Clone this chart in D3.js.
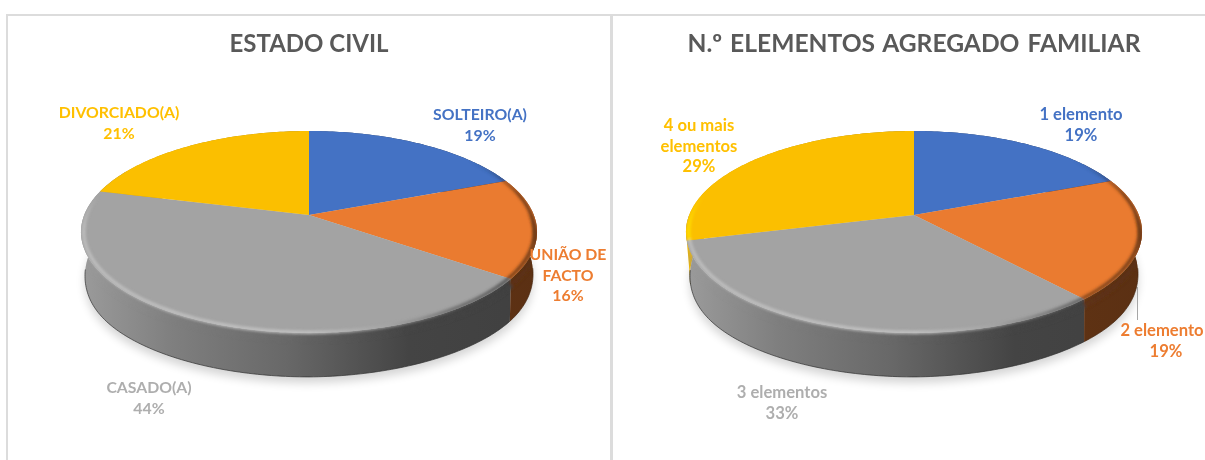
<!DOCTYPE html>
<html>
<head>
<meta charset="utf-8">
<script src="https://cdn.jsdelivr.net/npm/d3@7"></script>
<style>
html,body{margin:0;padding:0;background:#fff;overflow:hidden;}
svg{display:block;}
text{font-family:Lato,"Open Sans",sans-serif;}
</style>
</head>
<body>
<svg width="1205" height="460"></svg>
<script>
// values
const civilLabels = [['SOLTEIRO(A)'], ['UNIÃO DE','FACTO'], ['CASADO(A)'], ['DIVORCIADO(A)']];
const civilValues = [19, 16, 44, 21];
const familyLabels = [['1 elemento'], ['2 elemento'], ['3 elementos'], ['4 ou mais','elementos']];
const familyValues = [19, 19.49, 32.51, 29];
const colors = ['#4472c4', '#ea7b30', '#a3a3a3', '#fbbf00'];
const labelColors = ['#4472c4', '#ed7d31', '#aeaeae', '#ffc000'];

// layout, kept apart from the data: x, y of the first line, x of the percentage
const civilLabelPos = [[480,115,480],[568,255,568],[149,388,149],[119,113,119]];
const familyLabelPos = [[1081,115,1081],[1162,331,1166],[782,393,782],[699,126,699]];
const depth = 44;
const step = Math.PI/180;

const svg = d3.select('svg');
const defs = svg.append('defs');
defs.append('filter').attr('id','soft').attr('x','-5%').attr('y','-5%').attr('width','110%').attr('height','110%')
	.append('feGaussianBlur').attr('stdDeviation',1.5);
defs.append('filter').attr('id','shadow').attr('x','-10%').attr('y','-10%').attr('width','120%').attr('height','120%')
	.append('feGaussianBlur').attr('stdDeviation',5);

// frame
const frame = svg.append('g').attr('stroke','#dcdcdc').attr('stroke-width',2).attr('fill','none');
frame.append('path').attr('d','M7,460V15H1205');
frame.append('path').attr('d','M611.5,15V460').attr('stroke-width',3);

const line = d3.line();
const shade = (c,k) => {
	const r = d3.rgb(c);
	return d3.rgb(Math.min(255,r.r*k), Math.min(255,r.g*k), Math.min(255,r.b*k)).formatHex();
};
const clamp01 = d3.scaleLinear().domain([0,1]).range([0,1]).clamp(true);

// perspective of the disc: angle on the circle -> point on the screen
function project(cx, a){
	const u = Math.sin(a), v = -Math.cos(a);
	const w = 1 - 0.168*v;
	return [cx + 224.8*u/w, 215 + 98.1*v/w];
}
function lower(cx, p){
	const dx = p[0]-cx;
	const pull = 4*Math.pow(Math.abs(dx)/228, 12)*Math.sign(dx);
	return [p[0]-pull, p[1] + depth - 2*Math.max(0,dx/228)];
}

function gradient(id, cx, stops){
	const g = defs.append('linearGradient').attr('id',id)
		.attr('gradientUnits','userSpaceOnUse')
		.attr('x1',cx-228).attr('x2',cx+228).attr('y1',0).attr('y2',0);
	stops.forEach(s => g.append('stop').attr('offset',s[0]).attr('stop-color',s[1]));
}

function drawPie(name, cx, title, titleSize, wordGap, labelSize, labels, values, labelPos){
	const g = svg.append('g');
	const arcs = d3.pie().sort(null)(values);
	const angles = d => d3.range(d.startAngle, d.endAngle, step).concat([d.endAngle]);

	// shadow under the disc
	const all = d3.range(0, 2*Math.PI, step).map(a => lower(cx, project(cx,a)));
	g.append('path').attr('d', line(all)+'Z')
		.attr('transform','translate(0,6)')
		.attr('fill','#000').attr('opacity',0.17).attr('filter','url(#shadow)');

	const clip = defs.append('clipPath').attr('id',name+'-clip');

	// side walls, last slice first; a wall ending on the left runs on a bit under the next one
	arcs.slice().reverse().forEach(d => {
		const i = d.index;
		const id = name+'-wall-'+i;
		gradient(id, cx, [[0,shade(colors[i],0.95)],[0.2,shade(colors[i],0.78)],[0.45,shade(colors[i],0.64)],[0.72,shade(colors[i],0.42)],[1,shade(colors[i],0.39)]]);
		const extra = d.endAngle > Math.PI && d.endAngle < 2*Math.PI-0.01 ? 0.25 : 0;
		const as = angles({startAngle:d.startAngle, endAngle:d.endAngle+extra});
		const top = as.map(a => project(cx,a));
		const bottom = top.map(p => lower(cx,p)).reverse();
		const wall = line(top.concat(bottom))+'Z';
		g.append('path').attr('d', wall).attr('fill','url(#'+id+')');
		clip.append('path').attr('d', wall);
		// dark line at the foot of the wall
		const foot = top.filter((p,k) => -Math.cos(as[k]) > 0.1).map(p => lower(cx,p));
		if(foot.length > 1){
			g.append('path').attr('d', line(foot)).attr('fill','none')
				.attr('stroke',shade(colors[i],0.3)).attr('stroke-width',1).attr('opacity',0.7);
		}
	});

	// top face
	arcs.forEach((d,i) => {
		const pts = [[cx,215]].concat(angles(d).map(a => project(cx,a)));
		const face = line(pts)+'Z';
		g.append('path').attr('d', face).attr('fill',colors[i]);
		clip.append('path').attr('d', face);
	});

	// soft bevel along the front edge, kept inside the pie outline
	const bevel = g.append('g').attr('clip-path','url(#'+name+'-clip)');
	const down = bevel.append('g').attr('filter','url(#soft)');
	const light = bevel.append('g').attr('filter','url(#soft)');
	arcs.forEach((d,i) => {
		const wallId = name+'-wall-'+i;
		const id = name+'-rim-'+i;
		gradient(id, cx, [[0,shade(colors[i],1.2)],[0.5,shade(colors[i],1.22)],[0.68,shade(colors[i],1.0)],[0.82,shade(colors[i],0.62)],[0.95,shade(colors[i],0.42)],[1,shade(colors[i],0.38)]]);
		const as = angles(d);
		as.slice(1).forEach((a,k) => {
			const b = as[k];
			const mid = -Math.cos((a+b)/2);
			const onLeft = Math.sin((a+b)/2) < 0;
			const seg = [b,a].map(t => project(cx,t));
			// blends the wall colour up over the edge
			down.append('path').attr('d', line(seg.map(p => [p[0], p[1]+6])))
				.attr('fill','none').attr('stroke','url(#'+wallId+')').attr('stroke-width',6)
				.attr('opacity',clamp01(onLeft ? (mid-0.25)/0.3 : (mid+0.1)/0.3));
			// highlight on the left and bottom, shading on the right
			const inset = seg.map(p => [cx+(p[0]-cx)*0.988, p[1]-0.5]);
			const fade = onLeft ? (mid+0.2)/0.35 : (mid+0.6)/0.4;
			light.append('path').attr('d', line(inset))
				.attr('fill','none').attr('stroke','url(#'+id+')').attr('stroke-width',3)
				.attr('opacity',clamp01(fade));
		});
	});

	// title
	g.append('text').attr('x',cx).attr('y',52).attr('text-anchor','middle')
		.attr('font-size',titleSize).attr('font-weight',700).attr('word-spacing',wordGap)
		.attr('fill','#595959').text(title);

	// data labels
	arcs.forEach((d,i) => {
		const t = g.append('text').attr('text-anchor','middle').attr('font-size',labelSize)
			.attr('font-weight',700).attr('fill',labelColors[i]);
		const lines = labels[i].concat([Math.round(values[i])+'%']);
		lines.forEach((s,k) => {
			const x = k == lines.length-1 ? labelPos[i][2] : labelPos[i][0];
			t.append('tspan').attr('x',x).attr('y',labelPos[i][1]+5+k*20.5).text(s);
		});
	});
}

drawPie('civil', 309, 'ESTADO CIVIL', 24, 0, 15.8, civilLabels, civilValues, civilLabelPos);
drawPie('family', 914, 'N.º ELEMENTOS AGREGADO FAMILIAR', 24.6, 2, 16.6, familyLabels, familyValues, familyLabelPos);

// leader line of the 2 elemento label
svg.append('path').attr('d','M1137.5,287V320').attr('stroke','#a6a6a6').attr('fill','none');
</script>
</body>
</html>
